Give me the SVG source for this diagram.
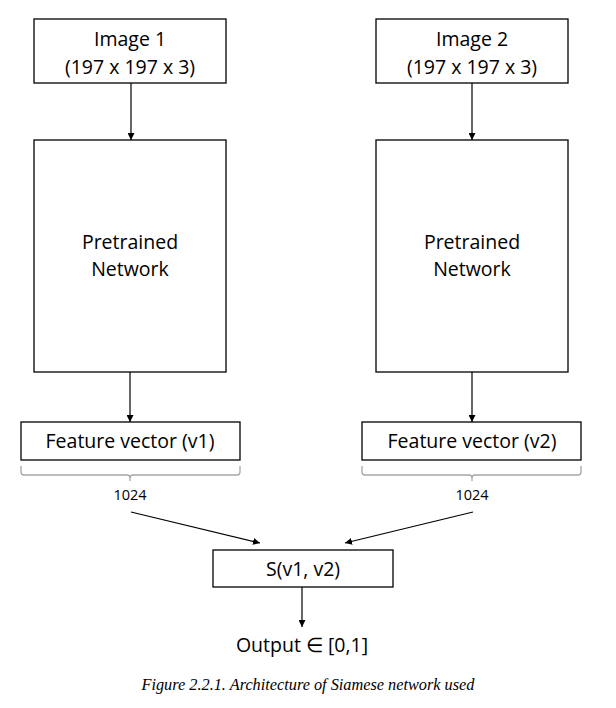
<svg xmlns="http://www.w3.org/2000/svg" width="616" height="708" viewBox="0 0 616 708">
<defs>
<marker id="ah" viewBox="0 0 10 10" refX="10" refY="5" markerWidth="7" markerHeight="7" markerUnits="userSpaceOnUse" orient="auto">
<path d="M0,0 L10,5 L0,10 z" fill="#000"/>
</marker>
<style>
.box{fill:#fff;stroke:#000;stroke-width:1.3}
.t{font-family:"Open Sans","Liberation Sans",sans-serif;font-size:19.5px;fill:#000;text-anchor:middle}
.s{font-family:"Open Sans","Liberation Sans",sans-serif;font-size:14.5px;fill:#000;text-anchor:middle}
.c{stroke:#000;stroke-width:1.2;fill:none;marker-end:url(#ah)}
.br{stroke:#a6a6a6;stroke-width:1.3;fill:none}
.cap{font-family:"Liberation Serif",serif;font-style:italic;font-size:16.3px;fill:#000;text-anchor:middle}
</style>
</defs>
<rect width="616" height="708" fill="#fff"/>
<g id="connectors">
<line class="c" x1="131" y1="83" x2="131" y2="140"/>
<line class="c" x1="472" y1="83" x2="472" y2="140"/>
<line class="c" x1="130" y1="372" x2="130" y2="422"/>
<line class="c" x1="472" y1="372" x2="472" y2="422"/>
<line class="c" x1="131" y1="512" x2="260" y2="543"/>
<line class="c" x1="473" y1="512" x2="345" y2="543"/>
<line class="c" x1="302" y1="587" x2="302" y2="627"/>
</g>
<g id="image1">
<rect class="box" x="34" y="19" width="192" height="64"/>
<text class="t" x="130" y="46">Image 1</text>
<text class="t" x="130" y="74">(197 x 197 x 3)</text>
</g>
<g id="image2">
<rect class="box" x="376" y="19" width="192" height="64"/>
<text class="t" x="472" y="46">Image 2</text>
<text class="t" x="472" y="74">(197 x 197 x 3)</text>
</g>
<g id="net1">
<rect class="box" x="34" y="140" width="192" height="232"/>
<text class="t" x="130" y="249">Pretrained</text>
<text class="t" x="130" y="276">Network</text>
</g>
<g id="net2">
<rect class="box" x="376" y="140" width="192" height="232"/>
<text class="t" x="472" y="249">Pretrained</text>
<text class="t" x="472" y="276">Network</text>
</g>
<g id="fv1">
<rect class="box" x="21" y="422" width="219" height="38"/>
<text class="t" x="130" y="448">Feature vector (v1)</text>
</g>
<g id="fv2">
<rect class="box" x="362" y="422" width="219" height="38"/>
<text class="t" x="472" y="448">Feature vector (v2)</text>
</g>
<g id="brace1">
<path class="br" d="M21,466 L21,472 Q21,475 24,475 L127,475 Q130,475 130,478 L130,481 M130,478 Q130,475 133,475 L237,475 Q240,475 240,472 L240,466"/>
<text class="s" x="130" y="500">1024</text>
</g>
<g id="brace2">
<path class="br" d="M362,466 L362,472 Q362,475 365,475 L469,475 Q472,475 472,478 L472,481 M472,478 Q472,475 475,475 L578,475 Q581,475 581,472 L581,466"/>
<text class="s" x="472" y="500">1024</text>
</g>
<g id="sim">
<rect class="box" x="213" y="550" width="180" height="37"/>
<text class="t" x="303" y="576">S(v1, v2)</text>
</g>
<g id="output">
<text class="t" x="302" y="652">Output ∈ [0,1]</text>
</g>
<g id="caption">
<text class="cap" x="308" y="690">Figure 2.2.1. Architecture of Siamese network used</text>
</g>
</svg>
